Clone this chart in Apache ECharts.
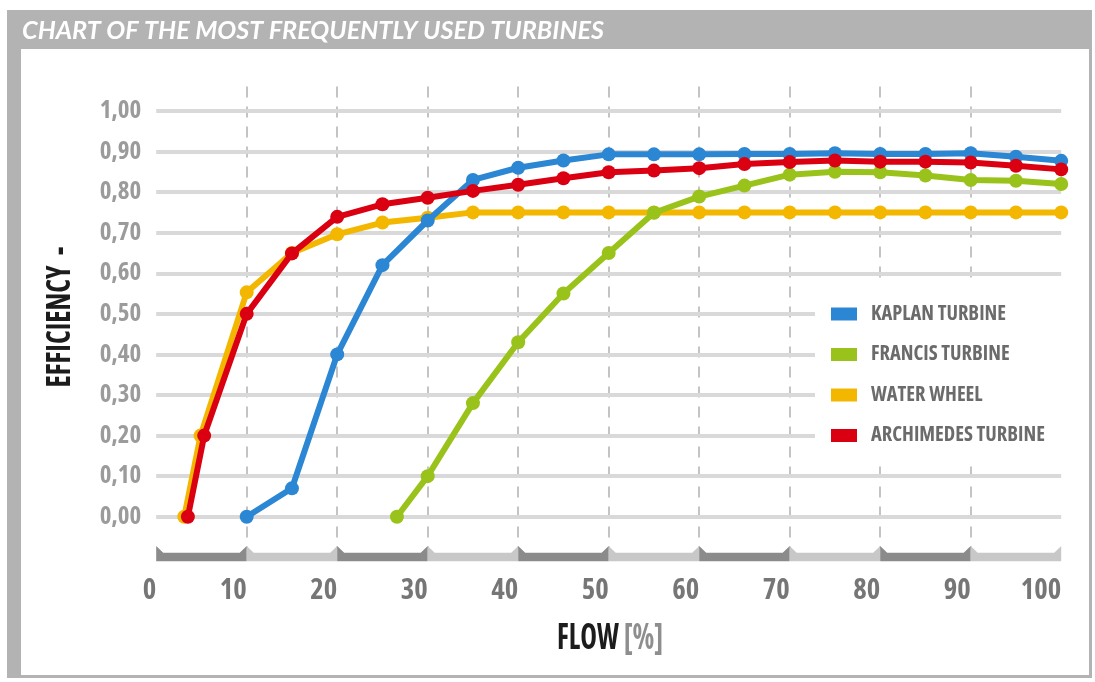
<!DOCTYPE html>
<html>
<head>
<meta charset="utf-8">
<script src="https://cdn.jsdelivr.net/npm/echarts@6/dist/echarts.min.js"></script>
<style>
html,body{margin:0;padding:0;background:#fff;}
#wrap{position:relative;width:1095px;height:682px;overflow:hidden;}
#frame{position:absolute;left:7px;top:10px;width:1085px;height:668px;background:#b3b3b3;}
#inner{position:absolute;left:21px;top:49px;width:1068px;height:626px;background:#fff;}
#c{position:absolute;left:0;top:0;width:1095px;height:682px;}
</style>
</head>
<body>
<div id="wrap"><div id="frame"></div><div id="inner"></div><div id="c"></div></div>
<script>
// ---------------- data ----------------
const chartTitle = 'CHART OF THE MOST FREQUENTLY USED TURBINES';
const yAxisTitle = 'EFFICIENCY  -';
const xAxisTitleMain = 'FLOW';
const xAxisTitleUnit = '[%]';
const seriesNames = ['KAPLAN TURBINE', 'FRANCIS TURBINE', 'WATER WHEEL', 'ARCHIMEDES TURBINE'];
const seriesColors = ['#2b86d3', '#99c31b', '#f4b700', '#db0011'];

const kaplanFlow = [10, 15, 20, 25, 30, 35, 40, 45, 50, 55, 60, 65, 70, 75, 80, 85, 90, 95, 100];
const kaplanEff  = [0, 0.07, 0.40, 0.62, 0.73, 0.83, 0.86, 0.878, 0.893, 0.893, 0.893, 0.894, 0.894, 0.896, 0.894, 0.894, 0.896, 0.887, 0.877];

const francisFlow = [26.6, 30, 35, 40, 45, 50, 55, 60, 65, 70, 75, 80, 85, 90, 95, 100];
const francisEff  = [0, 0.10, 0.28, 0.43, 0.55, 0.65, 0.749, 0.789, 0.816, 0.843, 0.850, 0.849, 0.841, 0.830, 0.828, 0.820];

const wheelFlow = [3.1, 4.9, 10, 15, 20, 25, 30, 35, 40, 45, 50, 55, 60, 65, 70, 75, 80, 85, 90, 95, 100];
const wheelEff  = [0, 0.20, 0.553, 0.65, 0.696, 0.725, 0.737, 0.75, 0.75, 0.75, 0.75, 0.75, 0.75, 0.75, 0.75, 0.75, 0.75, 0.75, 0.75, 0.75, 0.75];

const archFlow = [3.5, 5.3, 10, 15, 20, 25, 30, 35, 40, 45, 50, 55, 60, 65, 70, 75, 80, 85, 90, 95, 100];
const archEff  = [0, 0.20, 0.50, 0.649, 0.739, 0.77, 0.786, 0.803, 0.818, 0.834, 0.849, 0.853, 0.859, 0.869, 0.874, 0.878, 0.875, 0.875, 0.873, 0.865, 0.856];

const yGridValues = [0, 0.1, 0.2, 0.3, 0.4, 0.5, 0.6, 0.7, 0.8, 0.9, 1.0];
// x-axis band segments: [from, to, shade(0 dark / 1 light)]
const bandSegments = [[0,10,0],[10,20,1],[20,30,0],[30,40,1],[40,50,0],[50,60,1],[60,70,0],[70,80,1],[80,90,0],[90,100,1]];

// ---------------- font helpers ----------------
const mctx = document.createElement('canvas').getContext('2d');
function measure(font, text){ mctx.font = '10px serif'; mctx.font = font; return mctx.measureText(text).width; }
function valid(font){ mctx.font = '10px serif'; mctx.font = font; return mctx.font !== '10px serif'; }
const probe = 'KAPLAN TURBINE 0,50 WHEEL';
const monoW = measure('bold 20px monospace', probe);
const candidates = [
  { fam: 'Liberation Sans Narrow', st: '' },
  { fam: 'Roboto Condensed', st: '' },
  { fam: 'Open Sans', st: 'condensed' },
  { fam: 'Noto Sans', st: 'extra-condensed' },
  { fam: 'Noto Sans', st: 'condensed' },
  { fam: 'DejaVu Sans Condensed', st: '' },
  { fam: 'Liberation Sans', st: '' }
];
function fstr(c, size){ return 'bold ' + (c.st ? c.st + ' ' : '') + size + 'px "' + c.fam + '", monospace'; }
let best = null, bestW = Infinity;
candidates.forEach(c => {
  const f = fstr(c, 20);
  if (!valid(f)) return;
  const w = measure(f, probe);
  if (Math.abs(w - monoW) < 0.5) return;
  if (c.st) {
    const plain = measure(fstr({ fam: c.fam, st: '' }, 20), probe);
    if (w > plain - 1) return;
  }
  if (w < bestW) { bestW = w; best = c; }
});
if (!best) best = { fam: 'DejaVu Sans Condensed', st: '' };
const NF = best.fam;
const NW = 'bold' + (best.st ? ' ' + best.st : '');
function nfont(size){ return NW + ' ' + size + 'px "' + NF + '"'; }
const TITLEFONT = valid('italic bold 20px Lato') ? 'Lato' : 'Open Sans';

function fitSize(text, targetW, maxSize){ return Math.min(maxSize, 20 * targetW / measure(nfont(20), text)); }
const yLabelSize = fitSize('0,00', 42, 25);
const xLabelSize = fitSize('10', 27, 30);
const legendFontSize = fitSize('ARCHIMEDES TURBINE', 174, 25);
const maxLegendW = Math.max.apply(null, seriesNames.map(n => measure(nfont(legendFontSize), n)));
const legendPadRight = Math.max(4, 1066 - (815 + 16 + 26 + 5 + 9 + maxLegendW));

const titleSize = 25;
const titleScale = 582 / measure('italic bold ' + titleSize + 'px ' + TITLEFONT, chartTitle);
const yTitleSize = 34;
const yTitleScale = 141 / measure(nfont(yTitleSize), yAxisTitle);
const xTitleSize = 36;
const xTitleScale = 106 / measure(nfont(xTitleSize), xAxisTitleMain + ' ' + xAxisTitleUnit);

function zip(a, b){ return a.map((v, i) => [v, b[i]]); }
const flows = [kaplanFlow, francisFlow, wheelFlow, archFlow];
const effs = [kaplanEff, francisEff, wheelEff, archEff];
const zOrder = [3, 4, 2, 5];

const lineSeries = seriesNames.map((name, i) => ({
  name: name,
  type: 'line',
  data: zip(flows[i], effs[i]),
  symbol: 'circle',
  symbolSize: 14,
  showAllSymbol: true,
  lineStyle: { width: 6, color: seriesColors[i] },
  itemStyle: { color: seriesColors[i] },
  emphasis: { disabled: true },
  z: zOrder[i],
  clip: false
}));

const bandSeries = {
  name: 'band',
  type: 'custom',
  silent: true,
  clip: false,
  z: 1,
  data: bandSegments.map(s => [s[0], s[1], 0, s[2]]),
  encode: { x: [0, 1], y: 2 },
  renderItem: function(params, api){
    const p0 = api.coord([api.value(0), 0]);
    const p1 = api.coord([api.value(1), 0]);
    const yTop = p0[1] + 29.3, yMid = p0[1] + 36, yBot = p0[1] + 44.5, d = 7;
    return {
      type: 'polygon',
      shape: { points: [[p0[0], yTop], [p0[0] + d, yMid], [p1[0] - d, yMid], [p1[0], yTop], [p1[0], yBot], [p0[0], yBot]] },
      style: { fill: api.value(3) ? '#c8c8c8' : '#8b8b8b' }
    };
  },
  markLine: {
    silent: true,
    z: 1,
    symbol: ['none', 'none'],
    label: { show: false },
    lineStyle: { color: '#d9d9d9', width: 4, type: 'solid' },
    emphasis: { disabled: true },
    data: yGridValues.map(v => ({ yAxis: v }))
  }
};

const chart = echarts.init(document.getElementById('c'), null, { renderer: 'canvas' });
chart.setOption({
  animation: false,
  backgroundColor: 'transparent',
  grid: { left: 156.2, right: 33.8, top: 86.6, bottom: 132.8, containLabel: false },
  xAxis: {
    type: 'value', min: 0, max: 100, interval: 10,
    axisLine: { show: false }, axisTick: { show: false },
    axisLabel: { align: 'right', margin: 41 - xLabelSize / 2, color: '#767676', fontSize: xLabelSize, fontWeight: NW, fontFamily: NF },
    splitLine: { show: true, showMinLine: false, showMaxLine: false, lineStyle: { color: '#c4c4c4', width: 2, type: [11, 9] } }
  },
  yAxis: {
    type: 'value', min: -0.08, max: 1.06, interval: 0.02,
    axisLine: { show: false }, axisTick: { show: false }, splitLine: { show: false },
    axisLabel: {
      margin: 15, color: '#9b9b9b', fontSize: yLabelSize, fontWeight: NW, fontFamily: NF,
      formatter: function(v){
        const r = Math.round(v * 100);
        if (r < 0 || r > 100 || r % 10 !== 0) return '';
        return (r / 100).toFixed(2).replace('.', ',');
      }
    }
  },
  legend: {
    data: seriesNames, orient: 'vertical', left: 815, top: 284,
    padding: [20, legendPadRight, 20, 16], backgroundColor: '#ffffff',
    icon: 'rect', itemWidth: 26, itemHeight: 13, itemGap: 20.5, selectedMode: false, z: 10,
    textStyle: { color: '#6b6b6b', fontSize: legendFontSize, fontWeight: NW, fontFamily: NF, lineHeight: 20, padding: [0, 0, 0, 9] }
  },
  graphic: [
    { type: 'text', x: 22, y: 31, scaleX: titleScale, silent: true,
      style: { text: chartTitle, fill: '#ffffff', fontSize: titleSize, fontWeight: 'bold', fontStyle: 'italic', fontFamily: TITLEFONT, align: 'left', verticalAlign: 'middle' } },
    { type: 'text', x: 60, y: 317, rotation: Math.PI / 2, scaleX: yTitleScale, silent: true,
      style: { text: yAxisTitle, fill: '#1c1c1c', fontSize: yTitleSize, fontWeight: NW, fontFamily: NF, align: 'center', verticalAlign: 'middle' } },
    { type: 'text', x: 610, y: 639, scaleX: xTitleScale, silent: true,
      style: { text: '{a|' + xAxisTitleMain + '} {b|' + xAxisTitleUnit + '}', align: 'center', verticalAlign: 'middle',
        fontSize: xTitleSize, fontWeight: NW, fontFamily: NF,
        rich: { a: { fill: '#1c1c1c', fontSize: xTitleSize, fontWeight: NW, fontFamily: NF },
                b: { fill: '#8e8e8e', fontSize: xTitleSize, fontWeight: NW, fontFamily: NF } } } }
  ],
  series: [bandSeries].concat(lineSeries)
});
</script>
</body>
</html>
